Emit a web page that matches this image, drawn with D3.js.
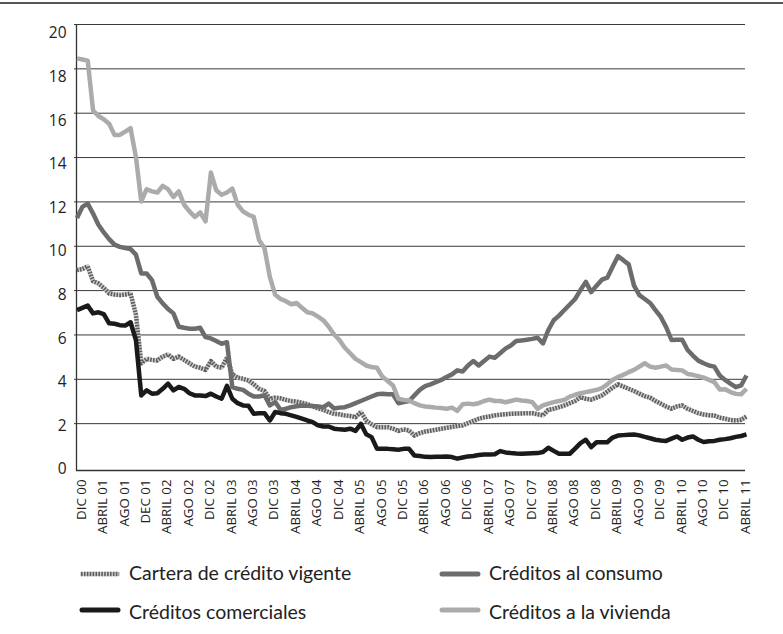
<!DOCTYPE html>
<html>
<head>
<meta charset="utf-8">
<script src="https://cdn.jsdelivr.net/npm/d3@7"></script>
<style>
  body { margin: 0; background: #fff; }
  svg { display: block; }
  .tick-y text { font-family: 'Open Sans', sans-serif; font-size: 15.5px; fill: #222; }
  .tick-x text { font-family: 'Open Sans', sans-serif; font-size: 13.3px; fill: #222; }
  .legend text { font-family: Lato, sans-serif; font-size: 19.5px; fill: #222; }
</style>
</head>
<body>
<svg id="chart" width="783" height="634"></svg>
<script>
// labels on the category axis, one every 4 months (Dec 2000 .. Apr 2011)
const tickLabels = [
  'DIC 00','ABRIL 01','AGO 01','DEC 01','ABRIL 02','AGO 02','DIC 02','ABRIL 03',
  'AGO 03','DIC 03','ABRIL 04','AGO 04','DIC 04','ABRIL 05','AGO 05','DIC 05',
  'ABRIL 06','AGO 06','DIC 06','ABRIL 07','AGO 07','DIC 07','ABRIL 08','AGO 08',
  'DIC 08','ABRIL 09','AGO 09','DIC 09','ABRIL 10','AGO 10','DIC 10','ABRIL 11'
];

const yTicks = [0, 2, 4, 6, 8, 10, 12, 14, 16, 18, 20];

// monthly values, Dec 2000 .. May 2011
const cartera = [
  8.9, 8.95, 9.07, 8.4, 8.3, 8.1, 7.85, 7.8, 7.78, 7.8, 7.85, 6.9,
  4.7, 4.9, 4.85, 4.83, 5.0, 5.1, 4.9, 5.0, 4.85, 4.7, 4.55, 4.5,
  4.4, 4.8, 4.55, 4.5, 4.95, 4.2, 4.05, 4.0, 3.93, 3.75, 3.55, 3.45,
  3.1, 3.15, 3.12, 3.05, 3.0, 2.97, 2.92, 2.86, 2.75, 2.67, 2.6, 2.5,
  2.42, 2.4, 2.35, 2.32, 2.27, 2.5, 2.12, 1.95, 1.82, 1.82, 1.82, 1.75,
  1.65, 1.72, 1.67, 1.44, 1.55, 1.62, 1.66, 1.7, 1.75, 1.79, 1.83, 1.87,
  1.9, 2.0, 2.1, 2.2, 2.26, 2.3, 2.35, 2.38, 2.4, 2.42, 2.43, 2.44,
  2.45, 2.45, 2.4, 2.35, 2.6, 2.65, 2.72, 2.8, 2.9, 3.0, 3.17, 3.1,
  3.06, 3.15, 3.25, 3.42, 3.6, 3.75, 3.65, 3.55, 3.45, 3.33, 3.22, 3.15,
  3.0, 2.88, 2.75, 2.65, 2.75, 2.8, 2.65, 2.55, 2.45, 2.39, 2.36, 2.34,
  2.25, 2.2, 2.14, 2.12, 2.15, 2.3
];

const consumo = [
  11.25, 11.75, 11.9, 11.45, 10.95, 10.6, 10.3, 10.05, 9.95, 9.9, 9.85, 9.6,
  8.75, 8.75, 8.45, 7.7, 7.4, 7.15, 6.95, 6.35, 6.3, 6.26, 6.26, 6.3,
  5.88, 5.82, 5.7, 5.58, 5.65, 3.63, 3.55, 3.5, 3.33, 3.2, 3.2, 3.26,
  2.8, 2.95, 2.6, 2.65, 2.72, 2.76, 2.8, 2.78, 2.77, 2.75, 2.72, 2.88,
  2.66, 2.7, 2.72, 2.8, 2.9, 3.0, 3.1, 3.2, 3.3, 3.33, 3.3, 3.3,
  2.9, 2.95, 3.0, 3.25, 3.5, 3.67, 3.75, 3.85, 3.95, 4.08, 4.2, 4.38,
  4.33, 4.6, 4.8, 4.6, 4.8, 5.0, 4.95, 5.15, 5.36, 5.5, 5.7, 5.73,
  5.76, 5.8, 5.85, 5.6, 6.2, 6.64, 6.85, 7.1, 7.35, 7.6, 8.0, 8.37,
  7.91, 8.2, 8.47, 8.56, 9.05, 9.53, 9.35, 9.16, 8.2, 7.77, 7.6, 7.42,
  7.1, 6.79, 6.33, 5.75, 5.76, 5.76, 5.3, 5.05, 4.82, 4.7, 4.6, 4.55,
  4.15, 3.95, 3.78, 3.62, 3.7, 4.15
];

const comerciales = [
  7.1, 7.2, 7.3, 6.95, 7.0, 6.92, 6.5, 6.48, 6.42, 6.4, 6.55, 5.75,
  3.25, 3.48, 3.33, 3.35, 3.55, 3.78, 3.48, 3.63, 3.55, 3.35, 3.25, 3.25,
  3.22, 3.33, 3.2, 3.1, 3.68, 3.1, 2.9, 2.8, 2.78, 2.42, 2.45, 2.45,
  2.12, 2.5, 2.45, 2.42, 2.35, 2.28, 2.2, 2.12, 2.05, 1.9, 1.85, 1.85,
  1.75, 1.72, 1.7, 1.75, 1.65, 1.97, 1.5, 1.37, 0.85, 0.85, 0.84, 0.82,
  0.8, 0.84, 0.84, 0.54, 0.52, 0.48, 0.47, 0.48, 0.49, 0.5, 0.47, 0.4,
  0.45, 0.5, 0.52, 0.56, 0.59, 0.59, 0.6, 0.74, 0.68, 0.65, 0.63, 0.62,
  0.63, 0.64, 0.65, 0.7, 0.89, 0.75, 0.62, 0.62, 0.62, 0.85, 1.1, 1.25,
  0.92, 1.14, 1.14, 1.14, 1.35, 1.44, 1.46, 1.48, 1.49, 1.45, 1.38, 1.32,
  1.25, 1.22, 1.2, 1.3, 1.4, 1.25, 1.35, 1.4, 1.25, 1.15, 1.18, 1.2,
  1.25, 1.28, 1.32, 1.38, 1.42, 1.49
];

const vivienda = [
  18.45, 18.4, 18.35, 16.1, 15.85, 15.7, 15.5, 15.0, 15.0, 15.15, 15.3, 14.0,
  12.0, 12.55, 12.45, 12.4, 12.7, 12.55, 12.2, 12.45, 11.85, 11.55, 11.3, 11.5,
  11.1, 13.3, 12.5, 12.3, 12.4, 12.58, 11.85, 11.55, 11.4, 11.3, 10.25, 9.9,
  8.6, 7.8, 7.6, 7.5, 7.36, 7.42, 7.2, 7.0, 6.95, 6.8, 6.64, 6.35,
  6.0, 5.75, 5.4, 5.15, 4.9, 4.75, 4.6, 4.53, 4.5, 4.1, 3.9, 3.7,
  3.1, 3.05, 3.02, 2.9, 2.8, 2.75, 2.73, 2.7, 2.68, 2.65, 2.7, 2.55,
  2.85, 2.88, 2.85, 2.9, 3.0, 3.06, 3.0, 3.0, 2.94, 3.0, 3.06, 3.02,
  3.0, 2.95, 2.65, 2.8, 2.88, 2.95, 3.0, 3.05, 3.2, 3.28, 3.35, 3.4,
  3.45, 3.5, 3.58, 3.75, 3.95, 4.08, 4.18, 4.3, 4.4, 4.55, 4.7, 4.55,
  4.5, 4.55, 4.6, 4.42, 4.4, 4.38, 4.22, 4.18, 4.12, 4.05, 3.95, 3.85,
  3.52, 3.53, 3.4, 3.32, 3.3, 3.55
];

const svg = d3.select('#chart');

const xScale = d3.scaleLinear()
  .domain([0, cartera.length - 1])
  .range([77, 746.5]);

const yScale = d3.scaleLinear()
  .domain([0, 20])
  .range([467.5, 24]);

// the printed numbers sit a little below their gridlines
const yLabelScale = d3.scaleLinear()
  .domain([0, 20])
  .range([469, 33]);

// top rule
svg.append('line')
  .attr('x1', 0).attr('x2', 783)
  .attr('y1', 3).attr('y2', 3)
  .attr('stroke', '#555')
  .attr('stroke-width', 2);

// gridlines
const gridG = svg.append('g')
  .attr('transform', 'translate(745,0)')
  .call(d3.axisLeft(yScale).tickValues(yTicks.filter(d => d > 0)).tickSize(671).tickFormat(''));
gridG.select('.domain').remove();
gridG.selectAll('line').attr('stroke', '#3a3a3a').attr('stroke-width', 1);

// y labels
const yAxisG = svg.append('g')
  .attr('class', 'tick-y')
  .attr('transform', 'translate(76.5,0)')
  .call(d3.axisLeft(yLabelScale).tickValues(yTicks).tickSize(0).tickPadding(10));
yAxisG.select('.domain').remove();

// y axis line
svg.append('line')
  .attr('x1', 76.5).attr('x2', 76.5)
  .attr('y1', 25).attr('y2', 470.5)
  .attr('stroke', '#333')
  .attr('stroke-width', 1.3);

// x axis
const xAxisG = svg.append('g')
  .attr('class', 'tick-x')
  .attr('transform', 'translate(0,470.5)')
  .call(d3.axisBottom(xScale)
    .tickValues(tickLabels.map((d, i) => i * 4))
    .tickSize(0)
    .tickFormat((d, i) => tickLabels[i]));
xAxisG.select('.domain')
  .attr('d', 'M76,0H745')
  .attr('stroke', '#333')
  .attr('stroke-width', 1.3);
xAxisG.selectAll('text')
  .attr('transform', 'rotate(-90)')
  .attr('text-anchor', 'end')
  .attr('x', -9)
  .attr('y', 3.5)
  .attr('dy', '0.35em');

const lineGen = d3.line()
  .x((d, i) => xScale(i))
  .y(d => yScale(d));

const plotG = svg.append('g')
  .attr('fill', 'none')
  .attr('stroke-linejoin', 'round');

// cartera: striped line
plotG.append('path')
  .attr('d', lineGen(cartera))
  .attr('stroke', '#cfcfcf')
  .attr('stroke-width', 4.5);
plotG.append('path')
  .attr('d', lineGen(cartera))
  .attr('stroke', '#5f5f5f')
  .attr('stroke-width', 4.5)
  .attr('stroke-dasharray', '1.6,1.3');

plotG.append('path')
  .attr('d', lineGen(consumo))
  .attr('stroke', '#6c6c6c')
  .attr('stroke-width', 4.5);

plotG.append('path')
  .attr('d', lineGen(comerciales))
  .attr('stroke', '#1a1a1a')
  .attr('stroke-width', 4.5);

plotG.append('path')
  .attr('d', lineGen(vivienda))
  .attr('stroke', '#ababab')
  .attr('stroke-width', 4.5);

// legend
const legendItems = [
  { name: 'Cartera de crédito vigente', color: '#5f5f5f', striped: true, x: 80, y: 574, base: 580 },
  { name: 'Créditos al consumo', color: '#6c6c6c', x: 440, y: 574, base: 580 },
  { name: 'Créditos comerciales', color: '#1a1a1a', x: 80, y: 610, base: 619 },
  { name: 'Créditos a la vivienda', color: '#ababab', x: 440, y: 610, base: 619 }
];

const legend = svg.append('g').attr('class', 'legend');
legendItems.forEach(item => {
  const g = legend.append('g').attr('transform', `translate(${item.x},0)`);
  if (item.striped) {
    g.append('line')
      .attr('x1', 2).attr('x2', 38)
      .attr('y1', item.y).attr('y2', item.y)
      .attr('stroke', '#cfcfcf').attr('stroke-width', 4.5)
      .attr('stroke-linecap', 'round');
    g.append('line')
      .attr('x1', 1).attr('x2', 39)
      .attr('y1', item.y).attr('y2', item.y)
      .attr('stroke', item.color).attr('stroke-width', 4.5)
      .attr('stroke-dasharray', '1.6,1.3');
  } else {
    g.append('line')
      .attr('x1', 2).attr('x2', 38)
      .attr('y1', item.y).attr('y2', item.y)
      .attr('stroke', item.color).attr('stroke-width', 5)
      .attr('stroke-linecap', 'round');
  }
  g.append('text')
    .attr('x', 49)
    .attr('y', item.base)
    .text(item.name);
});
</script>
</body>
</html>
